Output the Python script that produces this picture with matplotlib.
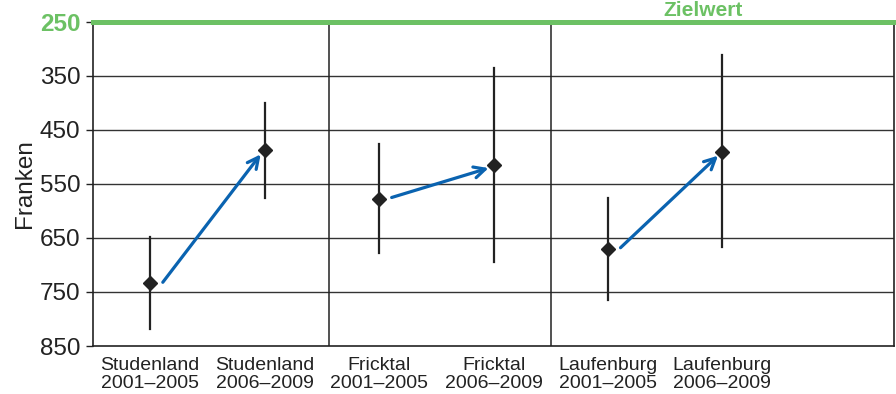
import matplotlib
matplotlib.use("Agg")
import matplotlib.pyplot as plt

plt.rcParams['font.family'] = ['Liberation Sans', 'DejaVu Sans']

categories = ["Studenland\n2001–2005", "Studenland\n2006–2009",
              "Fricktal\n2001–2005", "Fricktal\n2006–2009",
              "Laufenburg\n2001–2005", "Laufenburg\n2006–2009"]
values = [734, 487, 577, 515, 670, 490]
err_low = [818, 575, 678, 695, 765, 667]
err_high = [649, 400, 476, 335, 575, 311]
yticks = [250, 350, 450, 550, 650, 750, 850]
target = 250
target_label = "Zielwert"
ylabel = "Franken"
dividers = [1.56, 3.5]

green = "#6cc164"
blue = "#0a63b0"
dark = "#222222"

fig = plt.figure(figsize=(8.96, 3.94), dpi=100)
ax = fig.add_axes([93/896, 1-346/394, (894-93)/896, (346-22)/394])

x = list(range(len(categories)))
ax.set_xlim(-0.5, 6.5)
ax.set_ylim(850, 250)

for yv in yticks[1:-1]:
    ax.axhline(yv, color="#333333", lw=1.0, zorder=1)
for d in dividers:
    ax.axvline(d, color=dark, lw=1.1, zorder=1)

ax.axhline(target, color=green, lw=3.6, zorder=3, clip_on=False)
ax.text(4.83, target - 11, target_label, color=green, fontsize=15,
        fontweight="bold", ha="center", va="baseline", clip_on=False)

for xi, lo, hi in zip(x, err_low, err_high):
    ax.plot([xi, xi], [lo, hi], color=dark, lw=1.6, zorder=4)
ax.plot(x, values, linestyle="none", marker="D", markersize=7.5,
        color=dark, zorder=5)

for i in range(0, len(values), 2):
    ax.annotate("", xy=(x[i+1] - 0.02, values[i+1] + 4),
                xytext=(x[i] + 0.11, values[i] - 2),
                arrowprops=dict(arrowstyle="->,head_length=0.8,head_width=0.4",
                                color=blue, lw=2.3, shrinkA=0, shrinkB=2),
                zorder=6)

ax.set_yticks(yticks)
ax.set_yticklabels([str(v) for v in yticks], fontsize=17.5, color=dark)
lbl = ax.get_yticklabels()[0]
lbl.set_color(green)
lbl.set_fontweight("bold")
ax.tick_params(axis="y", length=5, width=1, color=dark, pad=4)
ax.set_xticks(x)
ax.set_xticklabels(categories, fontsize=14, color=dark, linespacing=1.1)
ax.tick_params(axis="x", length=0, pad=8)
ax.set_ylabel(ylabel, fontsize=17.5, color=dark, labelpad=3)

for s in ["left", "bottom", "right"]:
    ax.spines[s].set_color(dark)
    ax.spines[s].set_linewidth(1.2)
ax.spines["top"].set_visible(False)

fig.savefig("out.png", dpi=100)
